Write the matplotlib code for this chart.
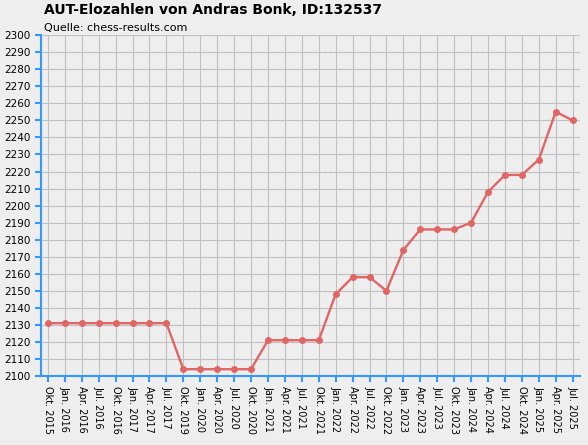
import matplotlib.pyplot as plt

labels = ["Okt. 2015", "Jan. 2016", "Apr. 2016", "Jul. 2016", "Okt. 2016", "Jan. 2017",
          "Apr. 2017", "Jul. 2017", "Okt. 2019", "Jan. 2020", "Apr. 2020", "Jul. 2020",
          "Okt. 2020", "Jan. 2021", "Apr. 2021", "Jul. 2021", "Okt. 2021", "Jan. 2022",
          "Apr. 2022", "Jul. 2022", "Okt. 2022", "Jan. 2023", "Apr. 2023", "Jul. 2023",
          "Okt. 2023", "Jan. 2024", "Apr. 2024", "Jul. 2024", "Okt. 2024", "Jan. 2025",
          "Apr. 2025", "Jul. 2025"]
elo = [2131, 2131, 2131, 2131, 2131, 2131, 2131, 2131, 2104, 2104, 2104, 2104, 2104,
       2121, 2121, 2121, 2121, 2148, 2158, 2158, 2150, 2174, 2186, 2186, 2186, 2190,
       2208, 2218, 2218, 2227, 2255, 2250]

fig = plt.figure(figsize=(5.88, 4.45), dpi=100, facecolor="#eeeeee")
ax = fig.add_axes([0.0697, 0.155, 0.916, 0.766], facecolor="#eeeeee")
x = range(len(elo))
ax.plot(x, elo, color="#e06666", lw=1.7, marker="o", ms=4, zorder=3)

ax.set_xlim(-0.41, len(elo) - 0.59)
ax.set_ylim(2100, 2300)
ax.set_yticks(range(2100, 2301, 10))
ax.set_yticklabels([str(v) for v in range(2100, 2301, 10)], fontsize=7.5)
ax.set_xticks(list(x))
ax.set_xticklabels(labels, rotation=270, fontsize=7)
ax.grid(True, color="#c0c0c0", lw=0.8)
for s in ["top", "right"]:
    ax.spines[s].set_visible(False)
for s in ["left", "bottom"]:
    ax.spines[s].set_color("#3399ff")
    ax.spines[s].set_linewidth(1.5)
ax.tick_params(colors="#3399ff", labelcolor="black", length=4, width=1.5)

fig.text(0.075, 0.968, "AUT-Elozahlen von Andras Bonk, ID:132537", fontsize=10,
         fontweight="bold")
fig.text(0.075, 0.93, "Quelle: chess-results.com", fontsize=8)

fig.savefig("out.png", dpi=100, facecolor=fig.get_facecolor())
